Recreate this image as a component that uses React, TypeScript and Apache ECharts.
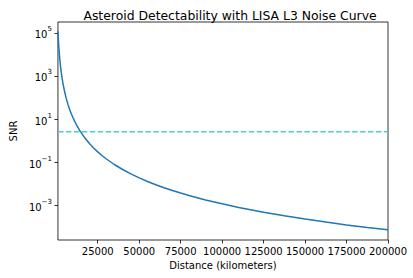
import React, { useEffect, useRef } from "react";
import * as echarts from "echarts";

// Distance (km) and SNR
const distances = [
  1000, 1250, 1500, 1750, 2000, 2500, 3000, 3500, 4000, 5000, 6000, 7000, 8000, 9000,
  10000, 12000, 14000, 17000, 20000, 22500, 25000, 27500, 30000, 35000, 40000, 45000,
  50000, 55000, 60000, 65000, 70000, 75000, 80000, 90000, 100000, 110000, 125000, 137500,
  150000, 162500, 175000, 187500, 200000,
];
const snr = [
  118600, 48600, 23430, 12650, 7413, 3036, 1464, 790, 463, 190, 91.5, 49.4, 29.0, 18.1,
  11.9, 5.72, 3.09, 1.42, 0.741, 0.463, 0.304, 0.207, 0.146, 0.079, 0.0463, 0.0289,
  0.019, 0.01296, 0.00915, 0.00664, 0.00494, 0.00375, 0.0029, 0.00181, 0.00119, 0.00081,
  0.000486, 0.000332, 0.000234, 0.00017, 0.000126, 0.000096, 0.0000741,
];
const threshold = 2.6;
const xTicks = [25000, 50000, 75000, 100000, 125000, 150000, 175000, 200000];
const yTickExponents = [-3, -1, 1, 3, 5];

const FONT = "DejaVu Sans";

export default function App() {
  const ref = useRef<HTMLDivElement>(null);
  useEffect(() => {
    if (!ref.current) return;
    const chart = echarts.init(ref.current, null, { renderer: "svg" });
    const yTickValues = yTickExponents.map((e) => Math.pow(10, e));
    chart.setOption({
      animation: false,
      backgroundColor: "#ffffff",
      title: {
        text: "Asteroid Detectability with LISA L3 Noise Curve",
        left: 225,
        textAlign: "center",
        top: 4,
        textStyle: { fontFamily: FONT, fontSize: 12.4, fontWeight: "normal", color: "#000" },
      },
      grid: {
        left: 53,
        right: 25,
        top: 22,
        bottom: 38,
        show: true,
        borderColor: "#000",
        borderWidth: 0.8,
        backgroundColor: "transparent",
      },
      xAxis: {
        type: "value",
        min: 1000,
        max: 200000,
        name: "Distance (kilometers)",
        nameLocation: "middle",
        nameGap: 20,
        nameTextStyle: { fontFamily: FONT, fontSize: 10, color: "#000" },
        axisLine: { show: false },
        splitLine: { show: false },
        axisTick: {
          show: true,
          length: 3.5,
          lineStyle: { color: "#000", width: 0.8 },
          customValues: xTicks,
        },
        axisLabel: {
          customValues: xTicks,
          margin: 6,
          fontFamily: FONT,
          fontSize: 10,
          color: "#000",
          formatter: (v: number) => String(v),
        },
      },
      yAxis: {
        type: "log",
        logBase: 10,
        min: Math.pow(10, -4.6),
        max: Math.pow(10, 5.5),
        name: "SNR",
        nameLocation: "middle",
        nameGap: 37,
        nameTextStyle: { fontFamily: FONT, fontSize: 10, color: "#000" },
        axisLine: { show: false },
        splitLine: { show: false },
        minorTick: { show: false },
        axisTick: {
          show: true,
          length: 3.5,
          lineStyle: { color: "#000", width: 0.8 },
          customValues: yTickValues,
        },
        axisLabel: {
          customValues: yTickValues,
          margin: 6,
          fontFamily: FONT,
          fontSize: 10,
          color: "#000",
          formatter: (v: number) => {
            const e = Math.round(Math.log10(v));
            const s = e < 0 ? "\u2212" + Math.abs(e) : String(e);
            return "{b|10}{s|" + s + "}";
          },
          rich: {
            b: { fontFamily: FONT, fontSize: 10, color: "#000", lineHeight: 14, verticalAlign: "bottom" },
            s: { fontFamily: FONT, fontSize: 7, color: "#000", lineHeight: 14, verticalAlign: "top", padding: [0, 0, 4, 0] },
          },
        },
      },
      series: [
        {
          type: "line",
          data: distances.map((d, i) => [d, snr[i]]),
          showSymbol: false,
          lineStyle: { color: "#1f77b4", width: 1.5 },
          itemStyle: { color: "#1f77b4" },
          clip: true,
          z: 2,
        },
        {
          type: "line",
          data: [
            [1000, threshold],
            [200000, threshold],
          ],
          showSymbol: false,
          lineStyle: { color: "#48d1cc", width: 1.5, type: [5.55, 2.4] },
          itemStyle: { color: "#48d1cc" },
          z: 3,
        },
      ],
    });
    return () => chart.dispose();
  }, []);
  return <div ref={ref} style={{ width: 413, height: 278, position: "absolute", left: 0, top: 0 }} />;
}
